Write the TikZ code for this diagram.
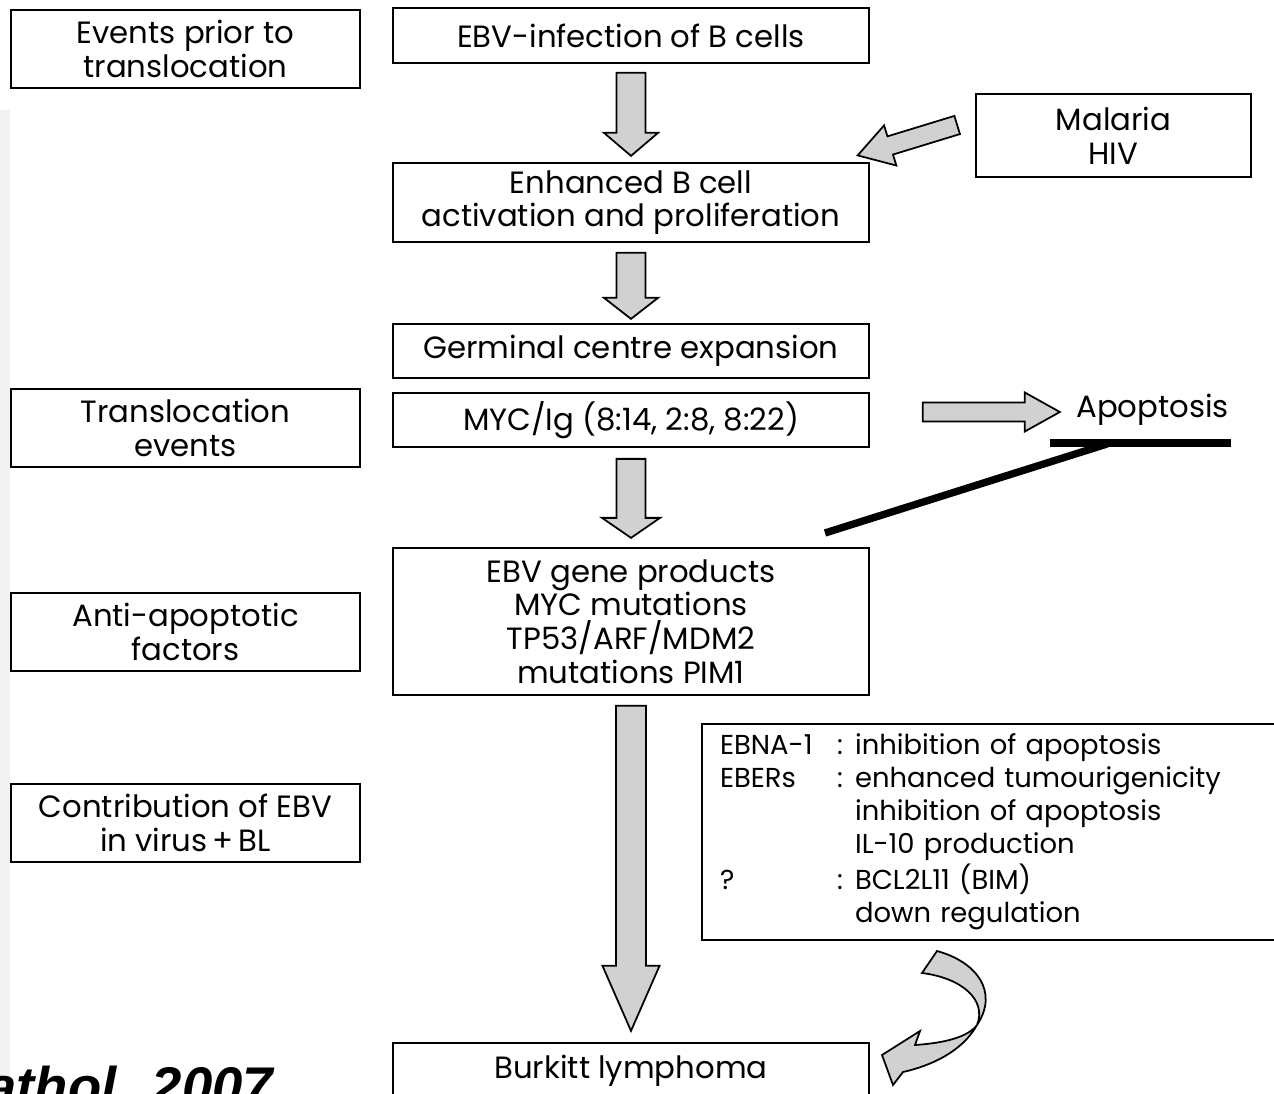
\documentclass[tikz,border=0pt]{standalone}
\usepackage{fontspec}
\setmainfont{Poppins}
\newfontfamily\citefont{Liberation Sans}
\usepackage{tikz}
\usetikzlibrary{positioning,calc}

\tikzset{
  stepbox/.style={draw,line width=1pt,minimum width=9.52cm,align=center,inner sep=0pt},
  sidebox/.style={draw,line width=1pt,minimum width=6.98cm,minimum height=1.56cm,align=center,inner sep=0pt},
  blockfill/.style={draw,fill=black!18,line width=1pt,line join=miter},
  inhibit/.style={line width=4.2pt},
  pics/blk/.style n args={4}{code={
    \draw[blockfill] (0,-#3) -- ({#1-#2},-#3) -- ({#1-#2},-#4) -- (#1,0) -- ({#1-#2},#4) -- ({#1-#2},#3) -- (0,#3) -- cycle;
  }},
}

\begin{document}
\begin{tikzpicture}[x=0.02cm,y=-0.02cm,font=\fontsize{17.5}{19.2}\selectfont]
\useasboundingbox (0,0) rectangle (1274,1094);
\clip (0,0) rectangle (1274,1094);
\fill[black!5] (0,110) rectangle (10,1094);

\node[stepbox,minimum height=1.1cm] (ebv) at (631,35.5) {EBV-infection of B cells};
\node[stepbox,minimum height=1.58cm] (enh) at (631,202.5) {Enhanced B cell\\activation and proliferation};
\node[stepbox,minimum height=1.08cm] (germ) at (631,351) {Germinal centre expansion};
\node[stepbox,minimum height=1.08cm] (myc) at (631,420) {MYC/Ig (8:14, 2:8, 8:22)};
\node[stepbox,minimum height=2.94cm] (prod) at (631,621.5) {EBV gene products\\MYC mutations\\TP53/ARF/MDM2\\mutations PIM1};
\node[stepbox,minimum height=1.1cm] (bl) at (631,1070.5) {Burkitt lymphoma};

\node[sidebox] (prior) at (185.5,49) {Events prior to\\translocation};
\node[sidebox] (trans) at (185.5,428) {Translocation\\events};
\node[sidebox] (anti) at (185.5,632) {Anti-apoptotic\\factors};
\node[sidebox] (contrib) at (185.5,823) {Contribution of EBV\\in virus\,+\,BL};

\node[draw,line width=1pt,minimum width=5.5cm,minimum height=1.66cm,align=center,inner sep=0pt] (mal) at (1113.5,135.5) {Malaria\\HIV};
\node[draw,line width=1pt,minimum height=4.32cm,text width=11.04cm,inner xsep=0.36cm,align=left,font=\fontsize{15.6}{18.8}\selectfont] (ebna) at (996,832) {%
\begin{tabular}{@{}p{2.34cm}@{}p{0.36cm}@{}l@{}}
EBNA-1 & : & inhibition of apoptosis\\
EBERs & : & enhanced tumourigenicity\\
 & & inhibition of apoptosis\\
 & & IL-10 production\\
? & : & BCL2L11 (BIM)\\
 & & down regulation
\end{tabular}};

\pic[rotate=-90] at ($(ebv.south)+(0,9)$) {blk={83}{23}{14.5}{27}};
\pic[rotate=-90] at ($(enh.south)+(0,10)$) {blk={66}{21}{14.5}{27}};
\pic[rotate=-90] at ($(myc.south)+(0,11)$) {blk={79}{20}{14.5}{29}};
\pic[rotate=-90] at ($(prod.south)+(0,10)$) {blk={325}{65}{15}{28.5}};
\pic[rotate=-163] at ($(mal.west)+(-18,-10.5)$) {blk={104}{34}{9.5}{21}};
\pic at ($(myc.east)+(53,-8)$) {blk={137}{35}{9.5}{19.5}};

\node[anchor=base west,inner sep=0pt] (apo) at (1076,418) {Apoptosis};
\coordinate (barL) at (1050,443);
\coordinate (barR) at (1231,443);
\coordinate (hitfoot) at (825,533);
\coordinate (hittop) at (1107,444);
\draw[inhibit] (barL) -- (barR);
\draw[inhibit] (hitfoot) -- (hittop);

\draw[blockfill] (922,973) -- (937,951) .. controls (977,962) and (999,992) .. (977,1025) .. controls (962,1052) and (930,1066) .. (903,1072) -- (893,1085) -- (882,1055) -- (920,1031) -- (915,1045) .. controls (945,1043) and (968,1037) .. (977,1025) .. controls (987,1000) and (962,978) .. (922,973) -- cycle;

\node[anchor=base west,inner sep=0pt,font=\citefont\bfseries\itshape\fontsize{31}{31}\selectfont] (cite) at (-14,1105) {athol. 2007};
\end{tikzpicture}
\end{document}
